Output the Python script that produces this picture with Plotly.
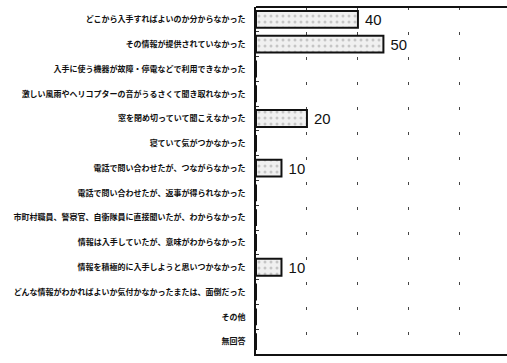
import plotly.graph_objects as go

categories = [
    "どこから入手すればよいのか分からなかった",
    "その情報が提供されていなかった",
    "入手に使う機器が故障・停電などで利用できなかった",
    "激しい風雨やヘリコプターの音がうるさくて聞き取れなかった",
    "窓を閉め切っていて聞こえなかった",
    "寝ていて気がつかなかった",
    "電話で問い合わせたが、つながらなかった",
    "電話で問い合わせたが、返事が得られなかった",
    "市町村職員、警察官、自衛隊員に直接聞いたが、わからなかった",
    "情報は入手していたが、意味がわからなかった",
    "情報を積極的に入手しようと思いつかなかった",
    "どんな情報がわかればよいか気付かなかったまたは、面倒だった",
    "その他",
    "無回答",
]
values = [40, 50, 0, 0, 20, 0, 10, 0, 0, 0, 10, 0, 0, 0]
labels = [f" {v}" if v > 0 else "" for v in values]

fig = go.Figure(go.Bar(
    x=values, y=categories, orientation="h", width=0.68,
    marker=dict(color="#e6e6e6", line=dict(color="#111111", width=2),
                pattern=dict(shape=".", fgcolor="#9a9a9a", bgcolor="#f0f0f0", size=6, solidity=0.2)),
    text=labels, textposition="outside", cliponaxis=False,
    textfont=dict(family="Liberation Sans, Arial", size=15, color="#111111"),
    hoverinfo="skip",
))

fig.update_layout(
    width=507, height=363, margin=dict(l=256, r=0, t=7, b=9),
    paper_bgcolor="white", plot_bgcolor="white", showlegend=False,
    font=dict(family="Noto Sans CJK JP", color="#111111"),
    xaxis=dict(range=[0, 98.5], showticklabels=False, ticks="", dtick=20, automargin=False,
               showgrid=True, gridcolor="#444444", gridwidth=1, griddash="3px,22px",
               zeroline=False, showline=True, linecolor="#111111", linewidth=1.5, mirror=False),
    yaxis=dict(autorange="reversed", automargin=False,
               tickfont=dict(size=8, family="Noto Sans CJK JP", color="#111111", weight="bold"),
               ticks="inside", tickson="boundaries", ticklen=3, tickcolor="#333333", tickwidth=1,
               ticklabelstandoff=7, showline=True, linecolor="#111111", linewidth=2,
               showgrid=False),
    shapes=[dict(type="line", xref="paper", yref="paper", x0=0, x1=1, y0=1, y1=1,
                 line=dict(color="#111111", width=2))],
)

fig.write_html("out.html", config={"displayModeBar": False},
               post_script="document.body.style.margin='0';document.body.style.overflow='hidden';")
